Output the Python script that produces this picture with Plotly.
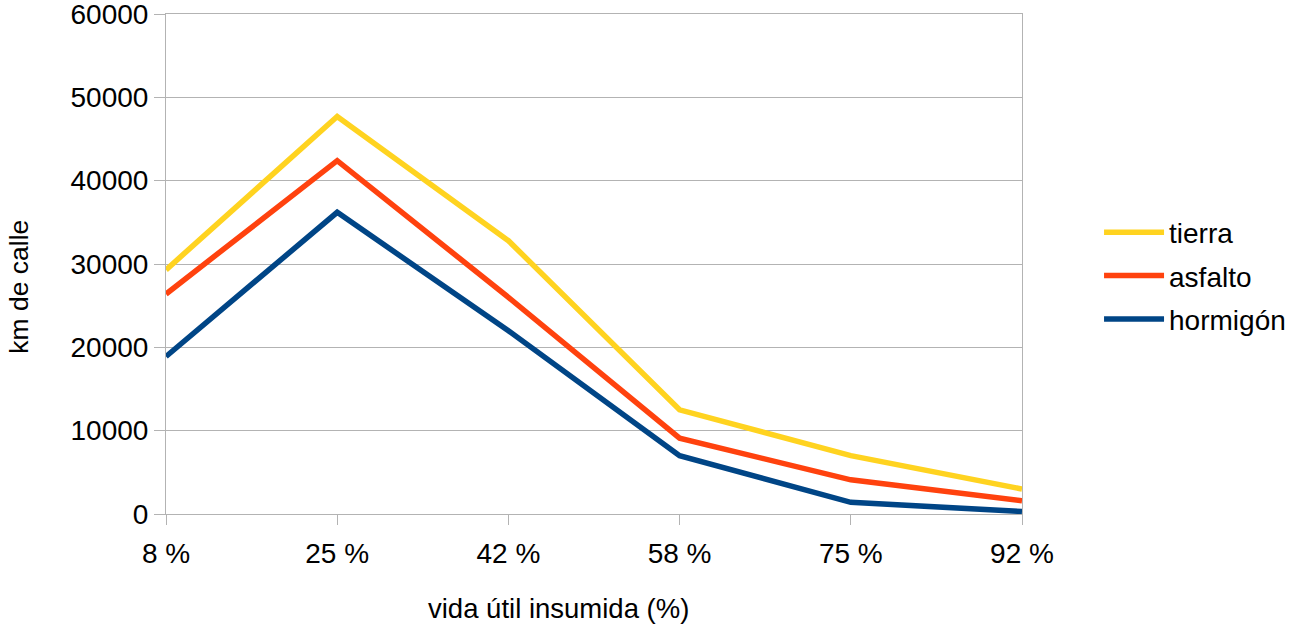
import plotly.graph_objects as go

categories = ["8 %", "25 %", "42 %", "58 %", "75 %", "92 %"]
tierra = [29300, 47700, 32800, 12500, 7000, 3000]
asfalto = [26400, 42400, 26000, 9100, 4100, 1600]
hormigon = [18900, 36200, 22000, 7000, 1400, 300]
y_ticks = [0, 10000, 20000, 30000, 40000, 50000, 60000]

FONT = "Liberation Sans, Arial, sans-serif"
GRID = "#b3b3b3"

fig = go.Figure()
for name, vals, col in [("tierra", tierra, "#ffd320"),
                        ("asfalto", asfalto, "#ff420e"),
                        ("hormigón", hormigon, "#004586")]:
    fig.add_trace(go.Scatter(x=categories, y=vals, mode="lines", name=name,
                             legendgroup=name,
                             line=dict(color=col, width=5.5)))

fig.update_layout(
    width=1293, height=626,
    margin=dict(l=166, r=271, t=14, b=112, autoexpand=False),
    paper_bgcolor="white", plot_bgcolor="white",
    font=dict(family=FONT, size=28, color="#000000"),
    showlegend=True,
    legend=dict(x=1.09, xanchor="left", y=0.476, yanchor="middle",
                font=dict(size=28), bgcolor="rgba(0,0,0,0)",
                itemwidth=60, tracegroupgap=4),
    xaxis=dict(type="category", range=[0, 5], showgrid=False,
               showline=True, linecolor=GRID, linewidth=1, mirror=True,
               ticks="outside", ticklen=10, tickcolor=GRID,
               tickfont=dict(size=28), zeroline=False,
               ticklabelstandoff=4),
    yaxis=dict(range=[0, 60000], tickvals=y_ticks, ticktext=[str(v) for v in y_ticks],
               showgrid=True, gridcolor=GRID, gridwidth=1,
               showline=True, linecolor=GRID, linewidth=1, mirror=True,
               ticks="outside", ticklen=11, tickcolor=GRID,
               tickfont=dict(size=28), zeroline=False,
               ticklabeloverflow="allow"),
    annotations=[
        dict(text="vida útil insumida (%)", xref="paper", yref="paper",
             x=0.459, y=-0.188, xanchor="center", yanchor="middle",
             showarrow=False, font=dict(size=27.5)),
        dict(text="km de calle", xref="paper", yref="paper",
             x=-0.172, y=0.454, xanchor="center", yanchor="middle",
             textangle=-90, showarrow=False, font=dict(size=26.5)),
    ],
)

fig.write_html("out.html")
